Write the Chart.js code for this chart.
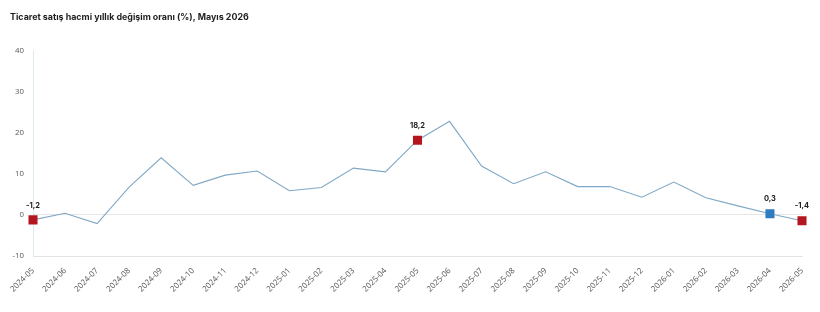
<!DOCTYPE html>
<html>
<head>
<meta charset="utf-8">
<script src="https://cdn.jsdelivr.net/npm/chart.js@4"></script>
<style>
  html, body { margin: 0; padding: 0; background: #fff; }
  #wrap { width: 820px; height: 312px; position: relative; }
</style>
</head>
<body>
<div id="wrap"><canvas id="c" width="820" height="312"></canvas></div>
<script>
const titleText = 'Ticaret satış hacmi yıllık değişim oranı (%), Mayıs 2026';
const months = ['2024-05','2024-06','2024-07','2024-08','2024-09','2024-10','2024-11','2024-12',
  '2025-01','2025-02','2025-03','2025-04','2025-05','2025-06','2025-07','2025-08','2025-09','2025-10',
  '2025-11','2025-12','2026-01','2026-02','2026-03','2026-04','2026-05'];
const changeRate = [-1.2, 0.4, -2.1, 6.8, 13.9, 7.2, 9.7, 10.7, 5.9, 6.7, 11.4, 10.5, 18.2, 22.8,
  11.9, 7.6, 10.5, 6.9, 6.9, 4.3, 8.0, 4.2, 2.2, 0.3, -1.4];
const yTicks = [-10, 0, 10, 20, 30, 40];
const highlightRed = ['2024-05', '2025-05', '2026-05'];
const highlightBlue = ['2026-04'];

const RED = '#B3161F', BLUE = '#2F7DBF', LINE = '#7FA8C6';
const isMarked = i => highlightRed.includes(months[i]) || highlightBlue.includes(months[i]);
const markColor = i => highlightBlue.includes(months[i]) ? BLUE : RED;

const labelPlugin = {
  id: 'valueLabels',
  afterDatasetsDraw(chart) {
    const ctx = chart.ctx;
    const meta = chart.getDatasetMeta(0);
    ctx.save();
    ctx.font = 'bold 7.5px Inter, "Open Sans", sans-serif';
    ctx.fillStyle = '#222';
    ctx.textAlign = 'center';
    ctx.textBaseline = 'middle';
    meta.data.forEach((pt, i) => {
      if (!isMarked(i)) return;
      const v = chart.data.datasets[0].data[i];
      ctx.fillText(v.toFixed(1).replace('.', ','), pt.x, pt.y - 14.5);
    });
    ctx.restore();
  }
};

new Chart(document.getElementById('c'), {
  type: 'line',
  data: {
    labels: months,
    datasets: [{
      data: changeRate,
      borderColor: LINE,
      borderWidth: 1.1,
      tension: 0,
      pointStyle: 'rect',
      pointRadius: c => isMarked(c.dataIndex) ? 6.4 : 0,
      pointHoverRadius: c => isMarked(c.dataIndex) ? 6.4 : 0,
      pointBackgroundColor: c => markColor(c.dataIndex),
      pointBorderColor: c => markColor(c.dataIndex),
      pointBorderWidth: 0
    }]
  },
  options: {
    responsive: false,
    animation: false,
    devicePixelRatio: 1,
    layout: { padding: { left: 10, right: 18, top: 0, bottom: 0 } },
    plugins: {
      legend: { display: false },
      tooltip: { enabled: false },
      title: {
        display: true,
        text: titleText,
        align: 'start',
        color: '#1e1e1e',
        font: { family: 'Inter, Roboto, sans-serif', size: 8.9, weight: 'bold' },
        padding: { top: 12, bottom: 28 }
      }
    },
    scales: {
      x: {
        offset: false,
        grid: { display: false },
        border: { display: true, color: '#e3e3e3' },
        ticks: {
          color: '#555',
          font: { family: '"Open Sans", sans-serif', size: 8 },
          minRotation: 45, maxRotation: 45,
          autoSkip: false,
          padding: 2
        },
        afterFit(s) { s.height = 56; }
      },
      y: {
        min: -10, max: 40,
        afterBuildTicks(s) { s.ticks = yTicks.map(v => ({ value: v })); },
        grid: {
          drawTicks: false,
          color: c => (c.tick && c.tick.value === 0) ? '#e6e6e6' : 'rgba(0,0,0,0)'
        },
        border: { display: true, color: '#dfe8ef' },
        ticks: {
          color: '#555',
          font: { family: '"Open Sans", sans-serif', size: 7.8 },
          padding: 9
        },
        afterFit(s) { s.width = 23; }
      }
    }
  },
  plugins: [labelPlugin]
});
</script>
</body>
</html>
